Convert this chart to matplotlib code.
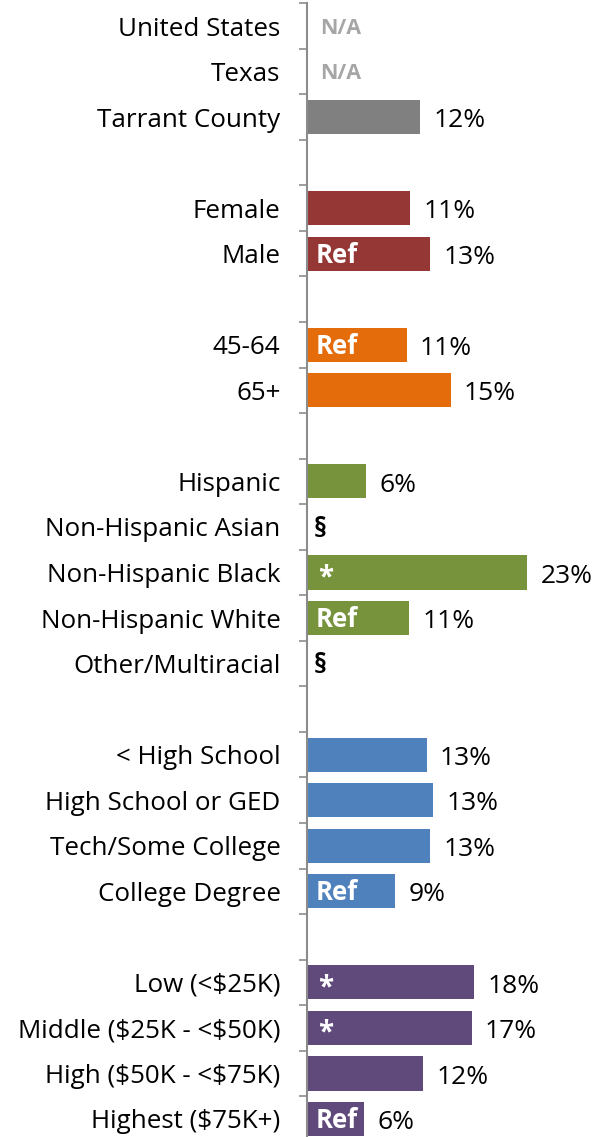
import numpy as np
import matplotlib.pyplot as plt

plt.rcParams["font.family"] = ["Open Sans", "DejaVu Sans"]
plt.rcParams["text.parse_math"] = False

# rows from top to bottom, "" marks a spacer row between groups
categories = [
    "United States", "Texas", "Tarrant County", "",
    "Female", "Male", "",
    "45-64", "65+", "",
    "Hispanic", "Non-Hispanic Asian", "Non-Hispanic Black", "Non-Hispanic White", "Other/Multiracial", "",
    "< High School", "High School or GED", "Tech/Some College", "College Degree", "",
    "Low (<$25K)", "Middle ($25K - <$50K)", "High ($50K - <$75K)", "Highest ($75K+)",
]
values = [
    None, None, 11.8, None,
    10.8, 12.9, None,
    10.4, 15.0, None,
    6.2, None, 23.0, 10.7, None, None,
    12.5, 13.2, 12.9, 9.2, None,
    17.5, 17.2, 12.1, 6.0,
]
value_labels = [
    "", "", "12%", "",
    "11%", "13%", "",
    "11%", "15%", "",
    "6%", "", "23%", "11%", "", "",
    "13%", "13%", "13%", "9%", "",
    "18%", "17%", "12%", "6%",
]
notes = [
    "N/A", "N/A", "", "",
    "", "Ref", "",
    "Ref", "", "",
    "", "§", "*", "Ref", "§", "",
    "", "", "", "Ref", "",
    "*", "*", "", "Ref",
]
groups = [
    "total", "total", "total", "",
    "sex", "sex", "",
    "age", "age", "",
    "race", "race", "race", "race", "race", "",
    "edu", "edu", "edu", "edu", "",
    "inc", "inc", "inc", "inc",
]
group_colors = {
    "total": "#808080",
    "sex": "#953735",
    "age": "#E46C0A",
    "race": "#77933C",
    "edu": "#4F81BD",
    "inc": "#604A7B",
}

W, H = 609, 1137
fig = plt.figure(figsize=(W / 100, H / 100), dpi=100)

n = len(categories)
px_per_row = 45.54
top_px = 26 - px_per_row / 2
ax = fig.add_axes([307 / W, 0, 1 - 307 / W, (H - top_px) / H])

y = np.arange(n)
for i in range(n):
    if values[i] is None:
        continue
    ax.barh(y[i], values[i], height=0.75, color=group_colors[groups[i]], zorder=2)
    ax.text(values[i] + 1.4, y[i] + 0.08, value_labels[i], ha="left", va="center",
            fontsize=19, color="black")

for i in range(n):
    note = notes[i]
    if note == "N/A":
        ax.text(1.4, y[i] + 0.05, note, ha="left", va="center", fontsize=15.5,
                fontweight="bold", color="#A6A6A6")
    elif note == "§":
        ax.text(0.65, y[i] + 0.05, note, ha="left", va="center", fontsize=19,
                fontweight="bold", color="black")
    elif note == "Ref":
        ax.text(0.9, y[i] + 0.03, note, ha="left", va="center", fontsize=18.5,
                fontweight="bold", color="white", zorder=3)
    elif note == "*":
        ax.text(2.0, y[i] + 0.12, note, ha="center", va="center", fontsize=20,
                fontweight="bold", color="white", zorder=3)

ax.set_xlim(0, (W - 307) / 9.57)
ax.set_ylim(n - 1 + (H - 1119) / px_per_row, -0.5)

# ticks at row boundaries, labels at row centres
ax.set_yticks(np.arange(-0.5, n - 1, 1.0))
ax.set_yticklabels([])
ax.set_yticks(y, minor=True)
ax.set_yticklabels(categories, minor=True, fontsize=18.7)
ax.tick_params(axis="y", which="major", length=6, width=1.2, color="#8C8C8C", direction="out")
ax.tick_params(axis="y", which="minor", length=0, pad=19)
ax.set_xticks([])

for s in ["top", "right", "bottom"]:
    ax.spines[s].set_visible(False)
ax.spines["left"].set_color("#8C8C8C")
ax.spines["left"].set_linewidth(1.5)

plt.savefig("out.png", dpi=100)
